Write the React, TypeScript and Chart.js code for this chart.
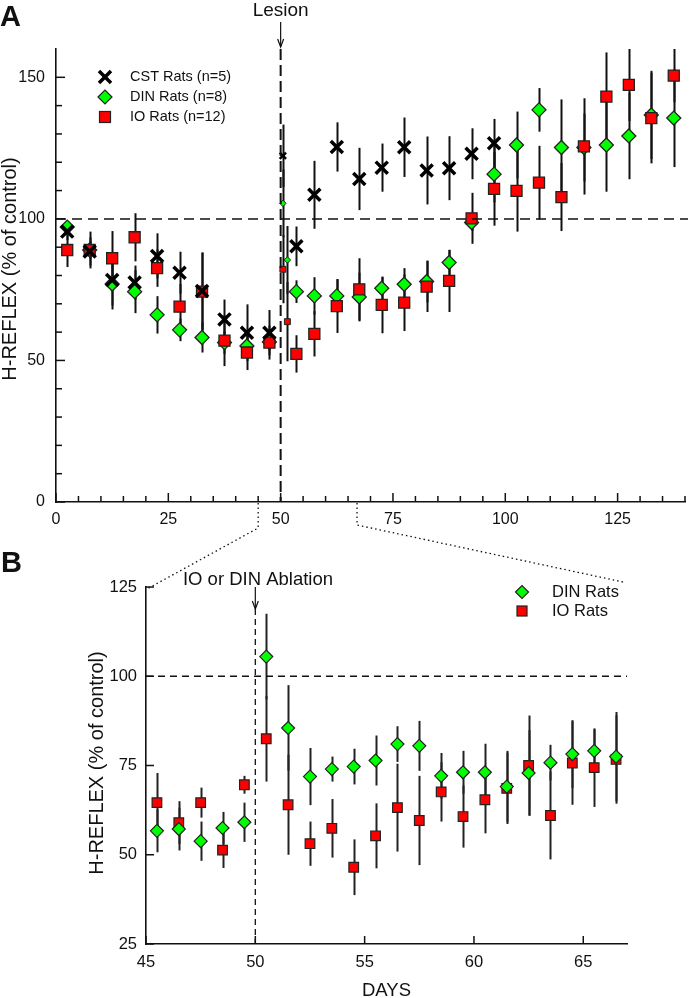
import React, { useEffect, useRef } from "react";
import { Chart, registerables } from "chart.js";
Chart.register(...registerables);

const FONT = "'Liberation Sans', Arial, Helvetica, sans-serif";
const INK = "#111";
const GREEN = "#00ff00";
const RED = "#ff0000";

// ---------- Panel A ----------
const weeklyDaysA = [2.5, 7.5, 12.5, 17.5, 22.5, 27.5, 32.5, 37.5, 42.5, 47.5, 53.5, 57.5, 62.5, 67.5, 72.5, 77.5, 82.5, 87.5, 92.5, 97.5, 102.5, 107.5, 112.5, 117.5, 122.5, 127.5, 132.5, 137.5];
const cstDaysA = [2.5, 7.5, 12.5, 17.5, 22.5, 27.5, 32.5, 37.5, 42.5, 47.5, 53.5, 57.5, 62.5, 67.5, 72.5, 77.5, 82.5, 87.5, 92.5, 97.5];
const cstValuesA = [95.5, 88.5, 78.4, 77.5, 86.9, 81, 74.5, 64.5, 59.8, 59.8, 90.3, 108.5, 125.4, 114.1, 118.1, 125.3, 117.1, 117.9, 123, 126.7];
const cstErrA = [3, 5, 9, 6, 8, 7.4, 13.6, 7, 10, 8, 7, 12, 8.7, 11, 8.5, 10.5, 12, 11.3, 9, 8.6];
const dinValuesA = [97.1, 89, 77, 74.3, 66.1, 60.8, 58.1, 56.3, 55.1, 56.5, 74.3, 72.8, 72.8, 72.4, 75.5, 76.9, 77.9, 84.6, 98.7, 115.8, 126.1, 138.5, 125.2, 125.2, 126.1, 129.3, 136.7, 135.6];
const dinErrA = [2, 3, 9, 7.6, 6.6, 4, 5.3, 4, 4, 3, 4, 6.6, 5.9, 8.6, 4, 5.7, 7.4, 4.4, 3, 10, 11.8, 7.7, 17, 12, 16.5, 15.3, 15.6, 17.3];
const ioValuesA = [89, 89, 86.1, 93.5, 82.6, 69, 74.3, 57, 52.8, 56.3, 52.3, 59.4, 69.2, 75.1, 69.6, 70.4, 76.1, 78.1, 100.2, 110.6, 109.9, 112.8, 107.7, 125.6, 143.2, 147.3, 135.6, 150.6];
const ioErrA = [6, 6.5, 9.6, 8.5, 6.6, 8, 13.8, 9, 6.2, 6, 6.6, 8, 9.5, 11, 10, 10, 9, 11, 9, 13, 14.4, 13, 12, 17, 15.6, 12.7, 16, 9.4];
// daily values right after the lesion (small symbols)
const cstDailyDaysA = [50.5];
const cstDailyA = [122.3];
const cstDailyErrA = [11];
const dailyDaysA = [50.5, 51.5];
const dinDailyA = [105.5, 85.5];
const dinDailyErrA = [12, 12];
const ioDailyA = [82.2, 63.7];
const ioDailyErrA = [12, 14];

const xTicksA = [0, 25, 50, 75, 100, 125];
const yTicksA = [0, 50, 100, 150];

// ---------- Panel B ----------
const daysB = [45.5, 46.5, 47.5, 48.5, 49.5, 50.5, 51.5, 52.5, 53.5, 54.5, 55.5, 56.5, 57.5, 58.5, 59.5, 60.5, 61.5, 62.5, 63.5, 64.5, 65.5, 66.5];
const dinValuesB = [56.7, 57.2, 53.8, 57.5, 59.1, 105.5, 85.5, 71.9, 74, 74.7, 76.4, 81, 80.5, 72.1, 73.1, 73.1, 69.1, 72.9, 75.8, 78.2, 79.1, 77.5];
const dinErrB = [6, 6, 5.5, 4.5, 5.5, 12, 12, 8, 3.5, 5, 7, 5, 7, 6.4, 6, 8, 10, 12, 5, 9.5, 6, 12.5];
const ioValuesB = [64.6, 59, 64.6, 51.3, 69.6, 82.5, 64, 53.1, 57.4, 46.5, 55.3, 63.2, 59.6, 67.6, 60.7, 65.4, 68.6, 75, 61, 75.7, 74.4, 76.7];
const ioErrB = [8.3, 6, 4.2, 5, 2.5, 12, 14, 6.2, 8.2, 7.8, 9.1, 12.3, 12.5, 8.3, 8.7, 9.4, 10, 14, 12.3, 11.7, 11, 12.4];

const xTicksB = [45, 50, 55, 60, 65];
const yTicksB = [25, 50, 75, 100, 125];

const pts = (xs: number[], ys: number[]) => xs.map((x, i) => ({ x, y: ys[i] }));

const errorBars = {
  id: "errorBars",
  beforeDatasetsDraw(chart: any) {
    const ctx = chart.ctx;
    const xs = chart.scales.x;
    const ys = chart.scales.y;
    ctx.save();
    chart.data.datasets.forEach((ds: any) => {
      if (!ds.err) return;
      ctx.strokeStyle = ds.errColor || INK;
      ctx.lineWidth = ds.errWidth || 2;
      ds.data.forEach((p: any, i: number) => {
        const e = ds.err[i];
        const x = Math.round(xs.getPixelForValue(p.x)) + 0.5;
        ctx.beginPath();
        ctx.moveTo(x, ys.getPixelForValue(p.y - e));
        ctx.lineTo(x, ys.getPixelForValue(p.y + e));
        ctx.stroke();
      });
    });
    ctx.restore();
  },
};

function vline(ctx: any, x: number, y1: number, y2: number) {
  ctx.beginPath();
  ctx.moveTo(x, y1);
  ctx.lineTo(x, y2);
  ctx.stroke();
}
function hline(ctx: any, y: number, x1: number, x2: number) {
  ctx.beginPath();
  ctx.moveTo(x1, y);
  ctx.lineTo(x2, y);
  ctx.stroke();
}
function arrow(ctx: any, x: number, y1: number, y2: number) {
  ctx.save();
  ctx.setLineDash([]);
  ctx.lineWidth = 1.2;
  ctx.strokeStyle = INK;
  vline(ctx, x, y1, y2);
  ctx.beginPath();
  ctx.moveTo(x - 3, y2 - 8);
  ctx.lineTo(x, y2);
  ctx.lineTo(x + 3, y2 - 8);
  ctx.stroke();
  ctx.restore();
}
function inwardTicks(chart: any, xMajor: number[], xMinor: number[], yMajor: number[], yMinor: number[], majLen: number, minLen: number) {
  const { ctx, chartArea } = chart;
  const xs = chart.scales.x;
  const ys = chart.scales.y;
  ctx.save();
  ctx.strokeStyle = INK;
  ctx.lineWidth = 1.5;
  xMajor.forEach((v) => vline(ctx, xs.getPixelForValue(v), chartArea.bottom, chartArea.bottom - majLen));
  xMinor.forEach((v) => vline(ctx, xs.getPixelForValue(v), chartArea.bottom, chartArea.bottom - minLen));
  yMajor.forEach((v) => hline(ctx, ys.getPixelForValue(v), chartArea.left, chartArea.left + majLen));
  yMinor.forEach((v) => hline(ctx, ys.getPixelForValue(v), chartArea.left, chartArea.left + minLen));
  ctx.restore();
}
function rotText(ctx: any, text: string, x: number, y: number, size: number) {
  ctx.save();
  ctx.translate(x, y);
  ctx.rotate(-Math.PI / 2);
  ctx.font = `${size}px ${FONT}`;
  ctx.fillStyle = INK;
  ctx.textAlign = "center";
  ctx.textBaseline = "middle";
  ctx.fillText(text, 0, 0);
  ctx.restore();
}
function markX(ctx: any, x: number, y: number, r: number, lw: number) {
  ctx.save();
  ctx.strokeStyle = "#000";
  ctx.lineWidth = lw;
  const d = r * Math.SQRT1_2;
  ctx.beginPath();
  ctx.moveTo(x - d, y - d);
  ctx.lineTo(x + d, y + d);
  ctx.moveTo(x - d, y + d);
  ctx.lineTo(x + d, y - d);
  ctx.stroke();
  ctx.restore();
}
function markDiamond(ctx: any, x: number, y: number, r: number) {
  ctx.save();
  ctx.fillStyle = GREEN;
  ctx.strokeStyle = "#222";
  ctx.lineWidth = 1.2;
  ctx.beginPath();
  ctx.moveTo(x - r, y);
  ctx.lineTo(x, y - r);
  ctx.lineTo(x + r, y);
  ctx.lineTo(x, y + r);
  ctx.closePath();
  ctx.fill();
  ctx.stroke();
  ctx.restore();
}
function markSquare(ctx: any, x: number, y: number, h: number) {
  ctx.save();
  ctx.fillStyle = RED;
  ctx.strokeStyle = "#222";
  ctx.lineWidth = 1.2;
  ctx.fillRect(x - h, y - h, 2 * h, 2 * h);
  ctx.strokeRect(x - h, y - h, 2 * h, 2 * h);
  ctx.restore();
}
function range(a: number, b: number, step: number, skip: number[]) {
  const out: number[] = [];
  for (let v = a; v <= b + 1e-9; v += step) if (!skip.includes(v)) out.push(v);
  return out;
}

function decorA(chart: any) {
  const { ctx, chartArea } = chart;
  const xs = chart.scales.x;
  const ys = chart.scales.y;
  inwardTicks(chart, xTicksA, range(5, 140, 5, xTicksA), yTicksA, range(10, 150, 10, yTicksA), 9, 6);
  ctx.save();
  ctx.strokeStyle = INK;
  // control line at 100 %
  ctx.lineWidth = 1.5;
  ctx.setLineDash([10, 6]);
  hline(ctx, ys.getPixelForValue(100), chartArea.left, chartArea.right + 3);
  // lesion line
  ctx.lineWidth = 2;
  ctx.setLineDash([11, 5]);
  const xl = xs.getPixelForValue(50);
  vline(ctx, xl, chartArea.top, chartArea.bottom);
  ctx.setLineDash([]);
  arrow(ctx, xl, 22, 47);
  ctx.fillStyle = INK;
  ctx.font = `19px ${FONT}`;
  ctx.textAlign = "center";
  ctx.textBaseline = "alphabetic";
  ctx.fillText("Lesion", xl, 16);
  // panel letter
  ctx.font = `bold 29px ${FONT}`;
  ctx.textAlign = "left";
  ctx.fillText("A", 0, 26);
  // y title
  rotText(ctx, "H-REFLEX (% of control)", 10, 269, 20);
  // legend
  const lx = 105;
  const tx = 130;
  markX(ctx, lx, 77, 8.5, 3.5);
  markDiamond(ctx, lx, 97, 7);
  markSquare(ctx, lx, 117, 5.5);
  ctx.fillStyle = INK;
  ctx.font = `14.5px ${FONT}`;
  ctx.textAlign = "left";
  ctx.textBaseline = "middle";
  ctx.fillText("CST Rats (n=5)", tx, 77);
  ctx.fillText("DIN Rats (n=8)", tx, 97);
  ctx.fillText("IO Rats (n=12)", tx, 117);
  ctx.restore();
}

function decorB(chart: any, chartA: any) {
  const { ctx, chartArea } = chart;
  const xs = chart.scales.x;
  const ys = chart.scales.y;
  inwardTicks(chart, xTicksB, [], yTicksB, [], 8, 5);
  ctx.save();
  ctx.strokeStyle = INK;
  ctx.lineWidth = 1.3;
  ctx.setLineDash([7, 5]);
  hline(ctx, ys.getPixelForValue(100), chartArea.left, chartArea.right);
  const xl = xs.getPixelForValue(50);
  ctx.setLineDash([6, 4]);
  vline(ctx, xl, chartArea.top + 22, chartArea.bottom);
  ctx.setLineDash([]);
  arrow(ctx, xl, chartArea.top, chartArea.top + 22);
  ctx.fillStyle = INK;
  ctx.font = `18.5px ${FONT}`;
  ctx.textAlign = "center";
  ctx.textBaseline = "alphabetic";
  ctx.fillText("IO or DIN Ablation", 258, 585);
  ctx.fillText("DAYS", (chartArea.left + chartArea.right) / 2, 996);
  ctx.font = `bold 29px ${FONT}`;
  ctx.textAlign = "left";
  ctx.fillText("B", 1, 572);
  rotText(ctx, "H-REFLEX (% of control)", 97, 763, 20);
  // legend
  markDiamond(ctx, 522, 592, 6.5);
  markSquare(ctx, 522, 611, 5);
  ctx.fillStyle = INK;
  ctx.font = `16.5px ${FONT}`;
  ctx.textAlign = "left";
  ctx.textBaseline = "middle";
  ctx.fillText("DIN Rats", 552, 592);
  ctx.fillText("IO Rats", 552, 611);
  // dotted zoom connectors from panel A
  if (chartA) {
    const ax = chartA.scales.x;
    const aBottom = chartA.chartArea.bottom;
    const x45 = ax.getPixelForValue(45);
    const x67 = ax.getPixelForValue(67);
    ctx.lineWidth = 1.3;
    ctx.setLineDash([1.5, 3]);
    ctx.beginPath();
    ctx.moveTo(x45, aBottom + 1);
    ctx.lineTo(x45, aBottom + 26);
    ctx.lineTo(chartArea.left + 1, chartArea.top + 2);
    ctx.stroke();
    ctx.beginPath();
    ctx.moveTo(x67, aBottom + 1);
    ctx.lineTo(x67, aBottom + 23);
    ctx.lineTo(chartArea.right - 4, chartArea.top - 5);
    ctx.stroke();
  }
  ctx.restore();
}

function axisOpts(min: number, max: number, ticks: number[], size: number, pad: number, fit: (s: any) => void) {
  return {
    type: "linear",
    min,
    max,
    bounds: "data",
    afterBuildTicks: (s: any) => {
      s.ticks = ticks.map((v) => ({ value: v }));
    },
    afterFit: fit,
    grid: { display: true, drawOnChartArea: false, drawTicks: false },
    border: { display: true, color: INK, width: 1.6 },
    ticks: { padding: pad, color: INK, font: { family: FONT, size }, autoSkip: false, maxRotation: 0 },
    title: { display: false },
  };
}

export default function App() {
  const refA = useRef<HTMLCanvasElement>(null);
  const refB = useRef<HTMLCanvasElement>(null);

  useEffect(() => {
    const W = 697;
    const H = 998;
    const chartA = new Chart(refA.current as HTMLCanvasElement, {
      type: "scatter",
      data: {
        datasets: [
          { label: "CST Rats (n=5)", data: pts(cstDaysA, cstValuesA), err: cstErrA, errWidth: 2, pointStyle: "crossRot", pointRadius: 8.5, borderColor: "#000", backgroundColor: "#000", borderWidth: 3.5, order: 0 },
          { label: "CST daily", data: pts(cstDailyDaysA, cstDailyA), err: cstDailyErrA, errWidth: 2, pointStyle: "crossRot", pointRadius: 4.5, borderColor: "#000", backgroundColor: "#000", borderWidth: 2.5, order: 0 },
          { label: "DIN Rats (n=8)", data: pts(weeklyDaysA, dinValuesA), err: dinErrA, errWidth: 2, pointStyle: "rectRot", pointRadius: 7, backgroundColor: GREEN, borderColor: "#222", borderWidth: 1.3, order: 2 },
          { label: "DIN daily", data: pts(dailyDaysA, dinDailyA), err: dinDailyErrA, errWidth: 2, pointStyle: "rectRot", pointRadius: 3.2, backgroundColor: GREEN, borderColor: "#222", borderWidth: 1, order: 2 },
          { label: "IO Rats (n=12)", data: pts(weeklyDaysA, ioValuesA), err: ioErrA, errWidth: 2, pointStyle: "rect", pointRadius: 7.8, backgroundColor: RED, borderColor: "#222", borderWidth: 1.3, order: 1 },
          { label: "IO daily", data: pts(dailyDaysA, ioDailyA), err: ioDailyErrA, errWidth: 2, pointStyle: "rect", pointRadius: 4.2, backgroundColor: RED, borderColor: "#222", borderWidth: 1, order: 1 },
        ] as any,
      },
      options: {
        animation: false,
        responsive: false,
        maintainAspectRatio: false,
        events: [],
        layout: { padding: { left: 0, right: 3, top: 49, bottom: H - 502 - 40 } },
        plugins: { legend: { display: false }, tooltip: { enabled: false } },
        scales: {
          x: axisOpts(0, 140, xTicksA, 16, 8, (s: any) => { s.height = 40; }),
          y: axisOpts(0, 160, yTicksA, 16, 11, (s: any) => { s.width = 56; }),
        } as any,
      },
      plugins: [errorBars, { id: "decorA", afterDraw: (c: any) => decorA(c) }],
    } as any);

    const chartB = new Chart(refB.current as HTMLCanvasElement, {
      type: "scatter",
      data: {
        datasets: [
          { label: "DIN Rats", data: pts(daysB, dinValuesB), err: dinErrB, errWidth: 2, errColor: "#222", pointStyle: "rectRot", pointRadius: 6.5, backgroundColor: GREEN, borderColor: "#222", borderWidth: 1.2, order: 0 },
          { label: "IO Rats", data: pts(daysB, ioValuesB), err: ioErrB, errWidth: 2, errColor: "#222", pointStyle: "rect", pointRadius: 6.8, backgroundColor: RED, borderColor: "#222", borderWidth: 1.2, order: 1 },
        ] as any,
      },
      options: {
        animation: false,
        responsive: false,
        maintainAspectRatio: false,
        events: [],
        layout: { padding: { left: 0, right: W - 627, top: 587, bottom: H - 944 - 40 } },
        plugins: { legend: { display: false }, tooltip: { enabled: false } },
        scales: {
          x: axisOpts(45, 67, xTicksB, 16.5, 9, (s: any) => { s.height = 40; }),
          y: axisOpts(25, 125, yTicksB, 16.5, 9, (s: any) => { s.width = 146; }),
        } as any,
      },
      plugins: [errorBars, { id: "decorB", afterDraw: (c: any) => decorB(c, chartA) }],
    } as any);

    return () => {
      chartB.destroy();
      chartA.destroy();
    };
  }, []);

  const cs: React.CSSProperties = { position: "absolute", left: 0, top: 0, width: 697, height: 998 };
  return (
    <div style={{ position: "absolute", left: 0, top: 0, width: 697, height: 998, background: "#fff" }}>
      <canvas ref={refA} width={697} height={998} style={cs} />
      <canvas ref={refB} width={697} height={998} style={cs} />
    </div>
  );
}
